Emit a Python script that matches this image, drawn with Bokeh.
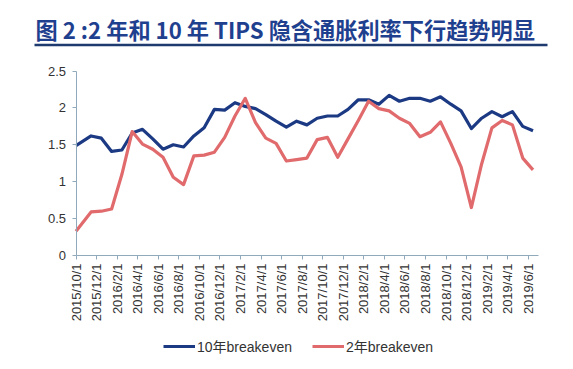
import math
from bokeh.plotting import figure
from bokeh.models import (Range1d, FixedTicker, Legend, LegendItem,
                          NumeralTickFormatter, Label, BoxAnnotation)
from bokeh.embed import file_html
from bokeh.resources import INLINE

# ---------------- data ----------------
title_text = "图 2 :2 年和 10 年 TIPS 隐含通胀利率下行趋势明显"

tick_labels = ["2015/10/1", "2015/12/1", "2016/2/1", "2016/4/1", "2016/6/1",
               "2016/8/1", "2016/10/1", "2016/12/1", "2017/2/1", "2017/4/1",
               "2017/6/1", "2017/8/1", "2017/10/1", "2017/12/1", "2018/2/1",
               "2018/4/1", "2018/6/1", "2018/8/1", "2018/10/1", "2018/12/1",
               "2019/2/1", "2019/4/1", "2019/6/1"]

# observation dates: first at start of Oct 2015, then mid-month through Jun 2019
dates = ["2015-10-01"] + [
    f"{2015 + (9 + i) // 12}-{(9 + i) % 12 + 1:02d}-15" for i in range(1, 45)
]

be10 = [1.49, 1.62, 1.59, 1.41, 1.43, 1.66, 1.71, 1.58, 1.44, 1.50,
        1.47, 1.62, 1.73, 1.98, 1.97, 2.07, 2.02, 1.99, 1.91, 1.82,
        1.74, 1.82, 1.77, 1.86, 1.89, 1.89, 1.98, 2.11, 2.11, 2.05,
        2.17, 2.09, 2.13, 2.13, 2.09, 2.15, 2.05, 1.96, 1.72, 1.86,
        1.95, 1.88, 1.95, 1.75, 1.69]

be2 = [0.33, 0.59, 0.60, 0.63, 1.10, 1.68, 1.51, 1.44, 1.33, 1.06,
       0.96, 1.35, 1.36, 1.40, 1.60, 1.89, 2.13, 1.80, 1.59, 1.52,
       1.28, 1.30, 1.32, 1.57, 1.60, 1.33, 1.58, 1.83, 2.09, 1.99,
       1.96, 1.86, 1.79, 1.61, 1.67, 1.81, 1.52, 1.20, 0.65, 1.24,
       1.73, 1.83, 1.77, 1.32, 1.16]

series_names = ["10年breakeven", "2年breakeven"]
y_ticks = [0, 0.5, 1, 1.5, 2, 2.5]
x_span = (0, 45)      # months from 2015/10/1
y_span = (0, 2.5)


def month_pos(d):
    y, m, dd = map(int, d.split("-"))
    return (y - 2015) * 12 + (m - 10) + (dd - 1) / 30.0


x = [month_pos(d) for d in dates]

# ---------------- layout (pixels) ----------------
W, H = 573, 369
AX_L, AX_R = 75.5, 538.0     # x pixel of x_span ends
AX_B, AX_T = 255.0, 70.5     # y pixel of y_span ends
sx = (AX_R - AX_L) / (x_span[1] - x_span[0])
sy = (AX_B - AX_T) / (y_span[1] - y_span[0])
xr = Range1d(x_span[0] - AX_L / sx, x_span[1] + (W - AX_R) / sx)
yr = Range1d(y_span[0] - (H - AX_B) / sy, y_span[1] + AX_T / sy)

BLUE = "#1c3a84"
RED = "#e06a6c"
AXIS = "#90aabb"
TXT = "#333333"
LAT = "'Liberation Sans', 'Noto Sans CJK SC'"

p = figure(width=W, height=H, x_range=xr, y_range=yr,
           output_backend="svg", toolbar_location=None, min_border=0)
p.grid.visible = False
p.outline_line_color = None
p.title.visible = False

r10 = p.line(x, be10, line_color=BLUE, line_width=3.2, line_join="round")
r2 = p.line(x, be2, line_color=RED, line_width=3.2, line_join="round")

xa = p.xaxis[0]
xa.fixed_location = y_span[0]
xa.bounds = x_span
xa.ticker = FixedTicker(ticks=[2 * i for i in range(len(tick_labels))])
xa.major_label_overrides = {2 * i: lab for i, lab in enumerate(tick_labels)}
xa.major_label_orientation = math.pi / 2
xa.minor_tick_line_color = None
xa.major_tick_in = 0
xa.major_tick_out = 4
xa.major_label_standoff = 4
xa.axis_line_color = AXIS
xa.major_tick_line_color = AXIS
xa.major_label_text_font = LAT
xa.major_label_text_font_size = "13px"
xa.major_label_text_color = TXT

ya = p.yaxis[0]
ya.fixed_location = x_span[0]
ya.bounds = y_span
ya.ticker = FixedTicker(ticks=y_ticks)
ya.formatter = NumeralTickFormatter(format="0.[0]")
ya.minor_tick_line_color = None
ya.major_tick_in = 0
ya.major_tick_out = 4
ya.major_label_standoff = 6
ya.axis_line_color = AXIS
ya.major_tick_line_color = AXIS
ya.major_label_text_font = LAT
ya.major_label_text_font_size = "13px"
ya.major_label_text_color = TXT

# title and its underline (screen px from the bottom-left of the canvas)
p.add_layout(Label(x=35, y=H - 28.5, x_units="screen", y_units="screen",
                   text=title_text, text_font="Noto Sans CJK SC",
                   text_font_style="bold", text_font_size="22.2px",
                   text_color="#1f3f8f", text_baseline="middle"))
p.add_layout(BoxAnnotation(left=34, right=547, bottom=H - 45.7, top=H - 43.3,
                           left_units="screen", right_units="screen",
                           bottom_units="screen", top_units="screen",
                           fill_color="#1f3a6e", fill_alpha=1,
                           line_color=None))

legend = Legend(items=[LegendItem(label=series_names[0], renderers=[r10]),
                       LegendItem(label=series_names[1], renderers=[r2])],
                orientation="horizontal", location=(163, H - 356),
                border_line_color=None, background_fill_alpha=0,
                label_text_font=LAT, label_text_font_size="14px",
                label_text_color=TXT, glyph_width=32, glyph_height=14,
                label_standoff=2, spacing=20, padding=0, margin=0)
p.add_layout(legend, "center")

open("out.html", "w").write(file_html(p, INLINE))
